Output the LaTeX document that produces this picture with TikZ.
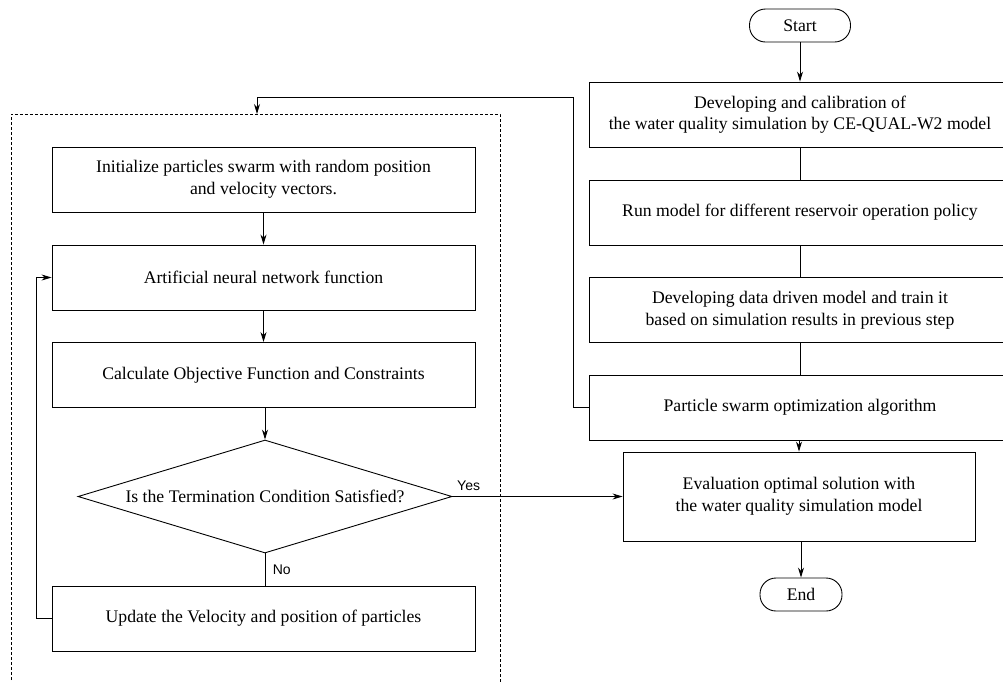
\documentclass[tikz,border=0pt]{standalone}
\usepackage{fontspec}
\setmainfont{Liberation Serif}
\setsansfont{Liberation Sans}
\usetikzlibrary{arrows.meta,shapes.geometric}

\tikzset{
  stepbox/.style={draw, rectangle, minimum width=423pt, minimum height=65pt, align=center, inner sep=2pt},
  termbox/.style={draw, rectangle, rounded corners=16pt, minimum height=33pt, inner sep=2pt},
  testbox/.style={draw, diamond, aspect=3.3, minimum width=374pt, minimum height=113pt, inner sep=0pt},
  arr/.style={-{Stealth[length=10pt,width=6pt]}},
  lbl/.style={font=\sffamily\fontsize{14}{16}\selectfont}
}

\begin{document}
\begin{tikzpicture}[x=1pt,y=-1pt, line width=0.9pt, font=\fontsize{17.7}{21.5}\selectfont]
\useasboundingbox (0,0) rectangle (1003,681);
% left column
\pgfmathsetmacro{\xl}{263.5}
% right column
\pgfmathsetmacro{\xr}{800}

% outer procedure
  \node[termbox, minimum width=101pt] (start) at (\xr,25.5) {Start};
  \node[stepbox, minimum width=422pt] (calib) at (\xr,114.5) {Developing and calibration of\\the water quality simulation by CE-QUAL-W2 model};
  \node[stepbox, minimum width=422pt] (runs) at (\xr,212.5) {Run model for different reservoir operation policy};
  \node[stepbox, minimum width=422pt] (ddm) at (\xr,310) {Developing data driven model and train it\\based on simulation results in previous step};
  \node[stepbox, minimum width=422pt] (pso) at (\xr,407.5) {Particle swarm optimization algorithm};
  \node[stepbox, minimum width=352pt, minimum height=89pt] (eval) at (799,496.5) {Evaluation optimal solution with\\the water quality simulation model};
  \node[termbox, minimum width=82pt] (end) at (801,594.5) {End};

% PSO block
  \draw[dash pattern=on 3pt off 2pt] (11,700) -- (11,114) -- (500,114) -- (500,700);
  \coordinate (looptop) at (257,114);
  \coordinate (bend) at (573,97);
  \node[stepbox] (init) at (\xl,179.5) {Initialize particles swarm with random position\\and velocity vectors.};
  \node[stepbox] (ann) at (\xl,277.5) {Artificial neural network function};
  \node[stepbox] (obj) at (\xl,375) {Calculate Objective Function and Constraints};
  \node[testbox] (cond) at (265,496.5) {Is the Termination Condition Satisfied?};
  \node[stepbox] (upd) at (\xl,618.5) {Update the Velocity and position of particles};

% connectors
  \draw[arr] (start) -- (calib);
  \draw (calib) -- (runs);
  \draw (runs) -- (ddm);
  \draw (ddm) -- (pso);
  \draw[arr] (pso.south -| eval.north) -- (eval.north);
  \draw[arr] (eval.south -| end.north) -- (end.north);
  \draw[arr] (pso.west) -| (bend) -| (looptop);

  \draw[arr] (init) -- (ann);
  \draw[arr] (ann) -- (obj);
  \draw[arr] (obj.south -| cond.north) -- (cond.north);
  \draw (cond.south) -- node[lbl, right, xshift=4pt] {No} (cond.south |- upd.north);
  \draw[arr] (upd.west) -- ++(-15,0) |- (ann.west);
  \draw[arr] (cond.east) -- node[lbl, pos=0, above right, xshift=1pt, yshift=2pt] {Yes} (eval.west);
\end{tikzpicture}
\end{document}
